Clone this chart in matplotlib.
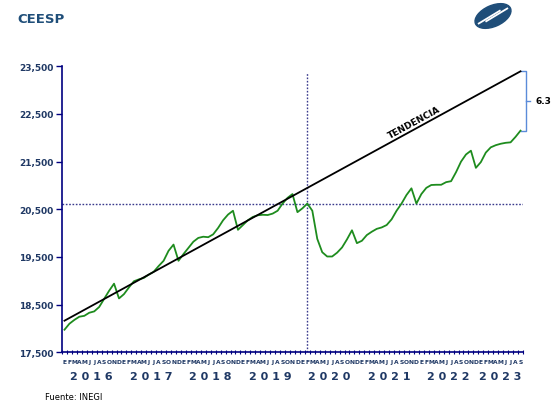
import matplotlib.pyplot as plt
import numpy as np
from matplotlib.patches import Ellipse

# empleo formal mensual, ene-2016 a sep-2023 (miles)
empleo = [17974, 18100, 18180, 18247, 18265, 18330, 18358, 18450, 18620, 18790, 18940, 18630,
          18720, 18860, 18990, 19030, 19060, 19130, 19190, 19310, 19420, 19630, 19760, 19420,
          19560, 19690, 19820, 19900, 19925, 19915, 19975, 20110, 20270, 20390, 20470, 20070,
          20170, 20270, 20340, 20375, 20385, 20380, 20410, 20470, 20620, 20740, 20820, 20440,
          20520, 20620, 20470, 19880, 19600, 19510, 19510, 19590, 19700, 19870, 20060, 19790,
          19840, 19960, 20030, 20090, 20120, 20170, 20290, 20470, 20620, 20800, 20940, 20620,
          20820, 20950, 21010, 21015, 21015, 21070, 21090, 21280, 21500, 21650, 21730, 21370,
          21490, 21690, 21800, 21845, 21875, 21895, 21905, 22020, 22150]
tendencia_x = [0, 92]
tendencia_y = [18163, 23395]
nivel_feb20 = 20611
mes_feb20 = 49
meses = ['E', 'F', 'M', 'A', 'M', 'J', 'J', 'A', 'S', 'O', 'N', 'D']
anios = ['2016', '2017', '2018', '2019', '2020', '2021', '2022', '2023']
brecha = '6.3'

navy = '#1F3864'
x = np.arange(len(empleo))

fig = plt.figure(figsize=(5.56, 4.06), dpi=100)
ax = fig.add_axes([0.1115, 0.1298, 0.8291, 0.7044])

ax.plot(x, empleo, color='#1E8C1E', lw=1.3, zorder=3)
ax.plot(tendencia_x, tendencia_y, color='black', lw=1.3, zorder=3)
ax.axhline(nivel_feb20, color='#3A3A8C', lw=1, ls=(0, (1.2, 1.2)), zorder=2)
ax.plot([mes_feb20, mes_feb20], [17500, 23380], color='#3A3A8C', lw=1, ls=(0, (1.2, 1.2)), zorder=2)

ax.set_xlim(-0.3, 92.45)
ax.set_ylim(17500, 23500)
ax.set_yticks(range(17500, 23501, 1000))
ax.set_yticklabels([f'{v:,}' for v in range(17500, 23501, 1000)],
                   fontsize=6.5, fontweight='bold', color=navy)
ax.tick_params(axis='y', length=4, width=1, color='#000080', pad=2)
ax.set_xticks(np.arange(-0.5, 92.6, 1))
ax.set_xticklabels([])
ax.tick_params(axis='x', length=2.5, width=0.8, color='#000080', direction='inout')
for s in ['top', 'right']:
    ax.spines[s].set_visible(False)
for s in ['left', 'bottom']:
    ax.spines[s].set_color('#000080')
    ax.spines[s].set_linewidth(1.2)

for i in x:
    ax.text(i, 17310, meses[i % 12], ha='center', va='center', fontsize=4.3,
            fontweight='bold', color=navy, clip_on=False)
for k, a in enumerate(anios):
    n = min(12, len(empleo) - 12 * k)
    ax.text(12 * k + (n - 1) / 2, 17010, ' '.join(a), ha='center', va='center',
            fontsize=8, fontweight='bold', color=navy, clip_on=False)

ax.text(70.5, 22330, 'TENDENCIA', rotation=28.5, ha='center', va='center',
        fontsize=6.5, fontweight='bold', color='black')

# corchete de brecha
yb0, yb1 = 22150, 23395
ax.plot([92.2, 93.2, 93.2, 92.2], [yb1, yb1, yb0, yb0], color='#5B8BD9', lw=1, clip_on=False)
ax.plot([93.2, 94.0], [(yb0 + yb1) / 2] * 2, color='#5B8BD9', lw=1, clip_on=False)
ax.text(95.0, (yb0 + yb1) / 2, brecha, ha='left', va='center', fontsize=6.5,
        fontweight='bold', color='black', clip_on=False)

fig.text(0.032, 0.953, 'CEESP', fontsize=9.5, fontweight='bold', color='#1F4E79',
         ha='left', va='center')
fig.text(0.081, 0.02, 'Fuente: INEGI', fontsize=6, color='black', ha='left', va='center')

# logo
lax = fig.add_axes([472 / 556, 1 - 32 / 406, 42 / 556, 30 / 406])
lax.set_xlim(-1.4, 1.4)
lax.set_ylim(-1, 1)
lax.axis('off')
lax.add_patch(Ellipse((0, 0), 2.55, 1.4, angle=24, color='#1F4E79'))
lax.plot([-0.95, 0.45], [-0.5, 0.35], color='white', lw=1.3)
lax.plot([-0.45, 0.95], [-0.35, 0.5], color='white', lw=1.3)

fig.savefig('out.png', dpi=100)
